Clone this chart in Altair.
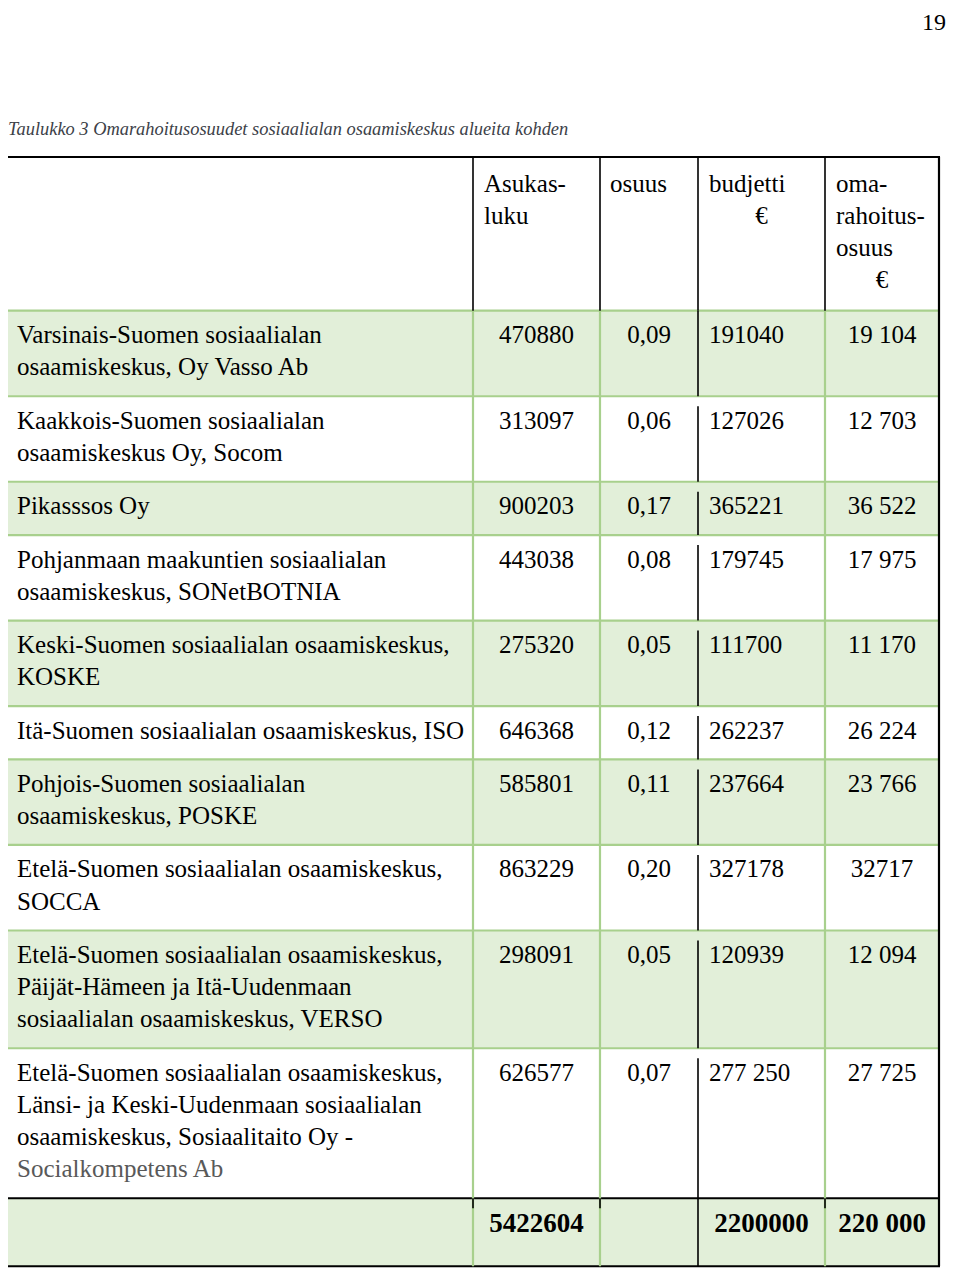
import altair as alt
import pandas as pd

# ---------------- data ----------------
caption = "Taulukko 3 Omarahoitusosuudet sosiaalialan osaamiskeskus alueita kohden"
page_number = "19"

header_lines = [
    ["Asukas-", "luku"],
    ["osuus"],
    ["budjetti", "€"],
    ["oma-", "rahoitus-", "osuus", "€"],
]

region_labels = [
    ["Varsinais-Suomen sosiaalialan", "osaamiskeskus, Oy Vasso Ab"],
    ["Kaakkois-Suomen sosiaalialan", "osaamiskeskus Oy, Socom"],
    ["Pikasssos Oy"],
    ["Pohjanmaan maakuntien sosiaalialan", "osaamiskeskus, SONetBOTNIA"],
    ["Keski-Suomen sosiaalialan osaamiskeskus,", "KOSKE"],
    ["Itä-Suomen sosiaalialan osaamiskeskus, ISO"],
    ["Pohjois-Suomen sosiaalialan", "osaamiskeskus, POSKE"],
    ["Etelä-Suomen sosiaalialan osaamiskeskus,", "SOCCA"],
    ["Etelä-Suomen sosiaalialan osaamiskeskus,", "Päijät-Hämeen ja Itä-Uudenmaan",
     "sosiaalialan osaamiskeskus, VERSO"],
    ["Etelä-Suomen sosiaalialan osaamiskeskus,", "Länsi- ja Keski-Uudenmaan sosiaalialan",
     "osaamiskeskus, Sosiaalitaito Oy -", "Socialkompetens Ab"],
]
grey_lines = ["Socialkompetens Ab"]

asukasluku = ["470880", "313097", "900203", "443038", "275320",
              "646368", "585801", "863229", "298091", "626577"]
osuus = ["0,09", "0,06", "0,17", "0,08", "0,05",
         "0,12", "0,11", "0,20", "0,05", "0,07"]
budjetti = ["191040", "127026", "365221", "179745", "111700",
            "262237", "237664", "327178", "120939", "277 250"]
omarahoitus = ["19 104", "12 703", "36 522", "17 975", "11 170",
               "26 224", "23 766", "32717", "12 094", "27 725"]
totals = ["5422604", "", "2200000", "220 000"]

# ---------------- layout ----------------
W, H = 944, 1260
col_edges = [6, 473, 600, 698, 825, 939]
table_top = 157.0
header_h = 153.7
pad = 21.07
line_h = 32.23
total_h = 68.0
GREEN_FILL = "#E2EFD9"
GREEN_LINE = "#A8D08D"
BLACK = "#000000"
FONT = "Liberation Serif"
FS = 25

col_mid = [(col_edges[i] + col_edges[i + 1]) / 2 for i in range(5)]

body_top = table_top + header_h
row_tops, row_bottoms = [], []
t = body_top
for lab in region_labels:
    row_tops.append(t)
    t += pad + line_h * len(lab)
    row_bottoms.append(t)
total_top = t
total_bottom = total_top + total_h

# fills
fills = []
for i, (a, b) in enumerate(zip(row_tops, row_bottoms)):
    if i % 2 == 0:
        fills.append(dict(x=col_edges[0], x2=col_edges[-1], y=a, y2=b))
fills.append(dict(x=col_edges[0], x2=col_edges[-1], y=total_top, y2=total_bottom))
fills_df = pd.DataFrame(fills)

# horizontal rules
hl = []
for a in row_tops:
    hl.append(dict(x=col_edges[0], x2=col_edges[-1], y=a, c=GREEN_LINE, w=2.2))
hl.append(dict(x=col_edges[0], x2=col_edges[-1], y=total_top, c=BLACK, w=2))
hl.append(dict(x=col_edges[0] - 1, x2=col_edges[-1] + 1, y=table_top, c=BLACK, w=2.2))
hl.append(dict(x=col_edges[0] - 1, x2=col_edges[-1] + 1, y=total_bottom, c=BLACK, w=2.2))
hl_df = pd.DataFrame(hl)

# vertical rules
vl = []
for xe in [col_edges[1], col_edges[2], col_edges[4]]:
    vl.append(dict(x=xe, y=body_top, y2=total_bottom, c=GREEN_LINE, w=2.2))
for xe in col_edges[1:5]:
    vl.append(dict(x=xe, y=table_top, y2=body_top, c=BLACK, w=1.6))
for i, (a, b) in enumerate(zip(row_tops, row_bottoms)):
    vl.append(dict(x=col_edges[3], y=a if i == 0 else a + 10, y2=b, c=BLACK, w=1.6))
vl.append(dict(x=col_edges[3], y=total_top, y2=total_bottom, c=BLACK, w=1.6))
for xe in [col_edges[1], col_edges[2], col_edges[4]]:
    vl.append(dict(x=xe, y=total_top, y2=total_top + 10, c=BLACK, w=1.6))
vl.append(dict(x=col_edges[0], y=table_top, y2=total_bottom, c=BLACK, w=2.2))
vl.append(dict(x=col_edges[-1], y=table_top, y2=total_bottom, c=BLACK, w=2.2))
vl_df = pd.DataFrame(vl)

# texts
left_txt, center_txt = [], []
hdr_base = table_top + 34.7
for j, lines in enumerate(header_lines):
    for k, s in enumerate(lines):
        y = hdr_base + k * line_h
        if s == "€":
            center_txt.append(dict(x=col_mid[j + 1], y=y, t=s, c=BLACK))
        else:
            left_txt.append(dict(x=col_edges[j + 1] + (10 if j == 1 else 11), y=y, t=s, c=BLACK))

for i, lab in enumerate(region_labels):
    base = row_tops[i] + 32.5
    for k, s in enumerate(lab):
        left_txt.append(dict(x=col_edges[0] + 11, y=base + k * line_h, t=s,
                             c="#595959" if s in grey_lines else BLACK))
    center_txt.append(dict(x=col_mid[1], y=base, t=asukasluku[i], c=BLACK))
    center_txt.append(dict(x=col_mid[2], y=base, t=osuus[i], c=BLACK))
    left_txt.append(dict(x=col_edges[3] + 11, y=base, t=budjetti[i], c=BLACK))
    center_txt.append(dict(x=col_mid[4], y=base, t=omarahoitus[i], c=BLACK))

bold_txt = []
for j, s in enumerate(totals):
    if s:
        bold_txt.append(dict(x=col_mid[j + 1], y=total_top + 33.7, t=s, c=BLACK))

left_df = pd.DataFrame(left_txt)
center_df = pd.DataFrame(center_txt)
bold_df = pd.DataFrame(bold_txt)
cap_df = pd.DataFrame([dict(x=8, y=135, t=caption)])
page_df = pd.DataFrame([dict(x=946, y=30, t=page_number)])

# ---------------- chart ----------------
XS = alt.Scale(domain=[8, 8 + W], nice=False, zero=False)
YS = alt.Scale(domain=[8, 8 + H], nice=False, zero=False, reverse=True)


def X(f="x"):
    return alt.X(f"{f}:Q", scale=XS, axis=None)


def Y(f="y"):
    return alt.Y(f"{f}:Q", scale=YS, axis=None)


fill_layer = alt.Chart(fills_df).mark_rect(color=GREEN_FILL, strokeWidth=0).encode(
    x=X(), x2="x2:Q", y=Y(), y2="y2:Q")

h_layer = alt.Chart(hl_df).mark_rule().encode(
    x=X(), x2="x2:Q", y=Y(),
    color=alt.Color("c:N", scale=None),
    size=alt.Size("w:Q", scale=None))

v_layer = alt.Chart(vl_df).mark_rule().encode(
    x=X(), y=Y(), y2="y2:Q",
    color=alt.Color("c:N", scale=None),
    size=alt.Size("w:Q", scale=None))

left_layer = alt.Chart(left_df).mark_text(
    align="left", baseline="alphabetic", font=FONT, fontSize=FS).encode(
    x=X(), y=Y(), text="t:N", color=alt.Color("c:N", scale=None))

center_layer = alt.Chart(center_df).mark_text(
    align="center", baseline="alphabetic", font=FONT, fontSize=FS).encode(
    x=X(), y=Y(), text="t:N", color=alt.Color("c:N", scale=None))

bold_layer = alt.Chart(bold_df).mark_text(
    align="center", baseline="alphabetic", font=FONT, fontSize=27, fontWeight="bold").encode(
    x=X(), y=Y(), text="t:N", color=alt.Color("c:N", scale=None))

cap_layer = alt.Chart(cap_df).mark_text(
    align="left", baseline="alphabetic", font=FONT, fontSize=18.4, fontStyle="italic",
    color="#3c4148").encode(x=X(), y=Y(), text="t:N")

page_layer = alt.Chart(page_df).mark_text(
    align="right", baseline="alphabetic", font=FONT, fontSize=24, color=BLACK).encode(
    x=X(), y=Y(), text="t:N")

chart = alt.layer(
    fill_layer, h_layer, v_layer, left_layer, center_layer, bold_layer, cap_layer, page_layer
).properties(
    width=W, height=H, padding=0, background="white",
    autosize=alt.AutoSizeParams(type="none"),
).configure_view(stroke="transparent")

chart.save("out.html", embed_options={"renderer": "svg", "actions": False})
